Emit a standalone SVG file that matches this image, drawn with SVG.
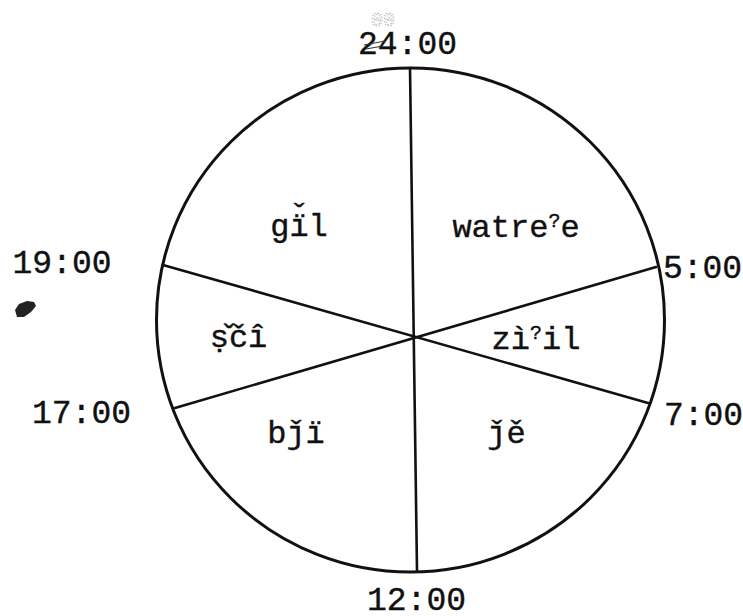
<svg xmlns="http://www.w3.org/2000/svg" width="743" height="616" viewBox="0 0 743 616">
  <style>
    .t { font-family: "Liberation Mono", "DejaVu Sans Mono", monospace; font-size: 32px; fill: #111; stroke: #111; stroke-width: 0.4; text-anchor: middle; }
    .time { font-size: 33px; }
    .sup { font-size: 20px; }
    .ln { stroke: #111; stroke-width: 2.6; fill: none; stroke-linecap: round; }
  </style>
  <rect width="743" height="616" fill="#fff"/>

  <g id="dial">
    <ellipse cx="410.5" cy="320" rx="254" ry="252" fill="none" stroke="#111" stroke-width="3"/>
  </g>

  <g id="connectors">
    <line class="ln" x1="410" y1="68" x2="417" y2="571"/>
    <line class="ln" x1="163" y1="265" x2="648" y2="403"/>
    <line class="ln" x1="175" y1="408" x2="656" y2="267"/>
  </g>

  <g id="label-24">
    <text class="t time" x="407.5" y="54">24:00</text>
    <path d="M364 45 L385 41 M366 49 L383 46" stroke="#333" stroke-width="1" fill="none"/>
    <text x="383" y="26" font-family="Liberation Mono, monospace" font-size="20" text-anchor="middle" fill="none" stroke="#aaa" stroke-width="0.8" stroke-dasharray="1.5 1.5">00</text>
  </g>
  <g id="label-5"><text class="t time" x="702.5" y="278">5:00</text></g>
  <g id="label-7"><text class="t time" x="703.5" y="425">7:00</text></g>
  <g id="label-12"><text class="t time" x="416.5" y="610">12:00</text></g>
  <g id="label-17"><text class="t time" x="81.5" y="423">17:00</text></g>
  <g id="label-19"><text class="t time" x="62" y="273">19:00</text></g>

  <g id="sector-gil">
    <text class="t" x="299" y="236">gï<tspan dx="-19.2" dy="-10">ˇ</tspan><tspan dy="10">l</tspan></text>
  </g>
  <g id="sector-watree"><text class="t" x="516" y="237">watre<tspan class="sup" dy="-10">?</tspan><tspan dy="10">e</tspan></text></g>
  <g id="sector-sci"><text class="t" x="238.5" y="347">ṣ̌čî</text></g>
  <g id="sector-ziil"><text class="t" x="536" y="349">zì<tspan class="sup" dy="-10">?</tspan><tspan dy="10">il</tspan></text></g>
  <g id="sector-bji"><text class="t" x="296" y="443">bǰï</text></g>
  <g id="sector-je"><text class="t" x="506.5" y="443">ǰě</text></g>

  <g id="smudge">
    <path d="M15 310 L19 304 L27 301 L34 302 L36 306 L31 312 L24 317 L17 317 Z" fill="#222"/>
  </g>
</svg>
